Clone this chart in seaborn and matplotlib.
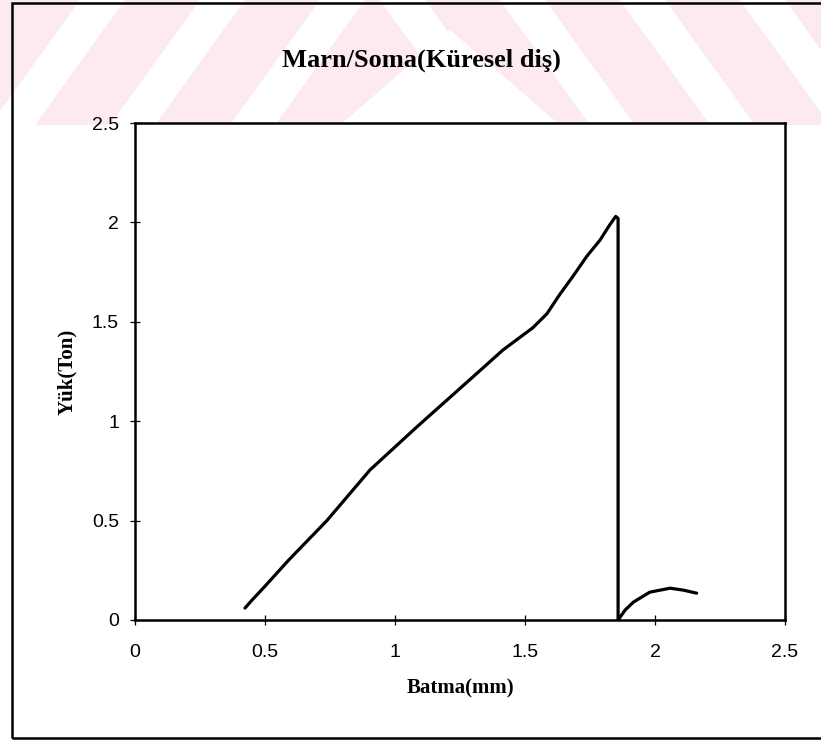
import numpy as np
import pandas as pd
import matplotlib
matplotlib.use("Agg")
import matplotlib.pyplot as plt
from matplotlib.patches import Rectangle, Polygon
import seaborn as sns

# Data
batma = [0.423, 0.45, 0.50, 0.59, 0.738, 0.904, 1.083, 1.34, 1.415, 1.53,
         1.584, 1.635, 1.685, 1.738, 1.788, 1.827, 1.849, 1.858, 1.858,
         1.885, 1.917, 1.98, 2.058, 2.11, 2.16]
yuk = [0.06, 0.10, 0.17, 0.30, 0.50, 0.755, 0.97, 1.27, 1.358, 1.47,
       1.54, 1.64, 1.73, 1.83, 1.91, 1.99, 2.03, 2.02, 0.0,
       0.05, 0.09, 0.14, 0.16, 0.15, 0.135]
x_ticks = [0, 0.5, 1, 1.5, 2, 2.5]
y_ticks = [0, 0.5, 1, 1.5, 2, 2.5]
x_tick_labels = ["0", "0.5", "1", "1.5", "2", "2.5"]
y_tick_labels = ["0", "0.5", "1", "1.5", "2", "2.5"]
title = "Marn/Soma(Küresel diş)"
xlabel = "Batma(mm)"
ylabel = "Yük(Ton)"

df = pd.DataFrame({"Batma": batma, "Yuk": yuk})

sns.set_style("white")
plt.rcParams["font.family"] = ["Liberation Sans", "DejaVu Sans"]
plt.rcParams["text.color"] = "black"
plt.rcParams["axes.labelcolor"] = "black"

W, H = 821, 740
fig = plt.figure(figsize=(W / 100, H / 100), dpi=100)
fig.patch.set_facecolor("white")

# scanned-page watermark band at top
band_h = 125
fig.patches.append(Rectangle((0, 1 - band_h / H), 1, band_h / H,
                             transform=fig.transFigure, facecolor="#fdeaee",
                             edgecolor="none", zorder=-2))
def stripe(xb, dx, w):
    pts = [(xb, H - band_h), (xb + w, H - band_h), (xb + w + dx, H), (xb + dx, H)]
    return Polygon([(px / W, py / H) for px, py in pts], closed=True,
                   transform=fig.transFigure, facecolor="white",
                   edgecolor="none", zorder=-1)
for xb in [-10, 110, 230]:
    fig.patches.append(stripe(xb, 90, 45))
for xb in [470, 590, 710, 830]:
    fig.patches.append(stripe(xb, -90, 45))
fig.patches.append(Polygon([(340 / W, 1 - 125 / H), (560 / W, 1 - 125 / H),
                            (450 / W, 1 - 30 / H)], closed=True,
                           transform=fig.transFigure, facecolor="white",
                           edgecolor="none", zorder=-1))

# outer frame
fig.patches.append(Rectangle((12 / W, 2 / H), (830 - 12) / W, (737 - 2) / H,
                             transform=fig.transFigure, facecolor="none",
                             edgecolor="black", linewidth=1.8, zorder=5))

ax = fig.add_axes([135 / W, 1 - 620 / H, (785 - 135) / W, (620 - 123) / H])
ax.set_zorder(2)
ax.set_facecolor("white")
sns.lineplot(data=df, x="Batma", y="Yuk", sort=False, estimator=None,
             color="black", linewidth=2.3, ax=ax)

ax.set_xlim(0, 2.5)
ax.set_ylim(0, 2.5)
ax.set_xticks(x_ticks)
ax.set_xticklabels(x_tick_labels)
ax.set_yticks(y_ticks)
ax.set_yticklabels(y_tick_labels)
ax.tick_params(direction="inout", length=7, width=0.9, labelsize=14,
               colors="black", labelcolor="black", left=True, bottom=True)
ax.tick_params(axis="x", pad=14)
ax.tick_params(axis="y", pad=8)
for s in ax.spines.values():
    s.set_visible(True)
    s.set_color("black")
    s.set_linewidth(1.8)

serif_bold = dict(family=["Liberation Serif", "DejaVu Serif"], weight="bold",
                  color="black")
ax.set_xlabel(xlabel, fontsize=15, **serif_bold)
ax.set_ylabel(ylabel, fontsize=15, **serif_bold)
ax.xaxis.label.set_va("center")
ax.yaxis.label.set_va("center")
ax.xaxis.set_label_coords(0.5, (620 - 688) / 497)
ax.yaxis.set_label_coords((67 - 135) / 650, 0.5)
fig.text(421 / W, 1 - 60 / H, title, ha="center", va="center",
         fontsize=19, **serif_bold)

fig.savefig("out.png", dpi=100)
